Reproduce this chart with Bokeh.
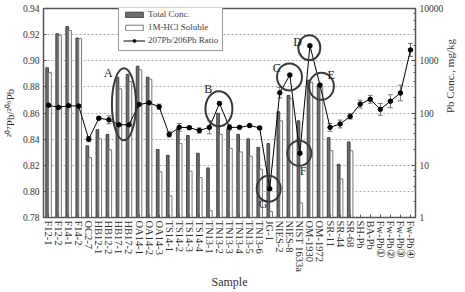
import math
import numpy as np
from bokeh.plotting import figure
from bokeh.models import (Range1d, LogScale, LogAxis, FixedTicker, PrintfTickFormatter,
                          Legend, LegendItem, Whisker, TeeHead, ColumnDataSource)
from bokeh.core.properties import value
from bokeh.embed import file_html
from bokeh.resources import INLINE

samples = ["F12-1", "F12-2", "F14-1", "F14-2", "OC2-7", "HB12-1", "HB12-2", "HB17-1", "HB17-2",
           "OA14-1", "OA14-2", "OA14-3", "TS14-1", "TS14-2", "TS14-3", "TS14-4", "TN13-1", "TN13-2",
           "TN13-3", "TN13-4", "TN13-5", "TN13-6", "JG-1", "NIES-2", "NIES-8", "NIST 1633a",
           "OM-1930", "OM-1972", "SR-11", "SR-44", "SR-68", "SH-Pb", "BA-Pb",
           "Fw-Pb\u2460", "Fw-Pb\u2461", "Fw-Pb\u2462", "Fw-Pb\u2463"]

total_conc = [735, 3300, 4520, 2730, 23.5, 48, 39, 485, 550, 787, 485, 20, 15.5, 49.6, 37, 17, 8.9,
              99, 50, 39, 32, 22, 26, 106, 217, 71, 427, 346, 33.7, 10.4, 28]
hcl_soluble = [592, 3070, 3800, 2660, 14, 32, 19.8, 290, 400, 670, 443, 7.5, 2.6, 26, 7.7, 5.8, 1.35,
               39, 21, 18, 14.9, 8.4, 1.3, 71, 188, 1.9, 385, 310, 19, 5.5, 19]

ratio = [0.8660, 0.8643, 0.8656, 0.8653, 0.8400, 0.8560, 0.8548, 0.8510, 0.8510, 0.8665, 0.8678,
         0.8648, 0.8436, 0.8490, 0.8488, 0.8466, 0.8490, 0.8673, 0.8490, 0.8490, 0.8504, 0.8486,
         0.8020, 0.8755, 0.8891, 0.8292, 0.9115, 0.8814, 0.8490, 0.8516, 0.8574, 0.8668, 0.8705,
         0.8628, 0.8690, 0.8753, 0.9083]
ratio_err = [0.001, 0.001, 0.002, 0.001, 0.002, 0.001, 0.003, 0.001, 0.001, 0.001, 0.001, 0.002,
             0.002, 0.003, 0.001, 0.002, 0.005, 0.001, 0.002, 0.001, 0.001, 0.001, 0.001, 0.004,
             0.001, 0.001, 0.001, 0.001, 0.003, 0.003, 0.002, 0.003, 0.003, 0.0045, 0.005, 0.006, 0.005]

left_ticks = [0.78, 0.80, 0.82, 0.84, 0.86, 0.88, 0.90, 0.92, 0.94]

marks = ["A", "B", "C", "D", "E", "F", "G"]

FONT = "Liberation Serif"

n = len(samples)
xc = np.arange(n) + 0.5
nb = len(total_conc)

p = figure(width=465, height=292, output_backend="svg", toolbar_location=None,
           x_range=Range1d(0, n), y_range=Range1d(0.78, 0.94),
           min_border_left=37, min_border_right=47, min_border_top=8, min_border_bottom=70)
p.extra_y_ranges = {"conc": Range1d(1, 10000)}
p.extra_y_scales = {"conc": LogScale()}

p.outline_line_color = "#555555"
p.outline_line_width = 1.5
p.xgrid.grid_line_color = None
p.ygrid.grid_line_color = "#aaaaaa"
p.ygrid.grid_line_dash = "2 2"
p.ygrid.ticker = FixedTicker(ticks=left_ticks)

tb = p.vbar(x=xc[:nb] - 0.14, top=total_conc, bottom=1, width=0.27, y_range_name="conc",
            fill_color="#6e6e6e", line_color="#2a2a2a", line_width=0.8)
hb = p.vbar(x=xc[:nb] + 0.14, top=hcl_soluble, bottom=1, width=0.27, y_range_name="conc",
            fill_color="#ffffff", line_color="#777777", line_width=1)

err_src = ColumnDataSource(dict(x=xc, upper=np.array(ratio) + np.array(ratio_err),
                                lower=np.array(ratio) - np.array(ratio_err)))
p.add_layout(Whisker(base="x", upper="upper", lower="lower", source=err_src, line_color="#777777",
                     line_width=1,
                     upper_head=TeeHead(size=5, line_color="#777777", line_width=1),
                     lower_head=TeeHead(size=5, line_color="#777777", line_width=1)))
rl = p.line(xc, ratio, line_color="black", line_width=1)
rs = p.scatter(xc, ratio, size=4.5, color="black")

idx = [samples.index(s) for s in ["TN13-2", "NIES-8", "OM-1930", "OM-1972", "NIST 1633a", "JG-1"]]
r = np.array(ratio)
circ_x = [xc[samples.index("HB17-1")] + 0.5,
          xc[idx[0]] - 0.05, xc[idx[1]] - 0.03, xc[idx[2]] - 0.06, xc[idx[3]] + 0.14,
          xc[idx[4]] - 0.06, xc[idx[5]] - 0.1]
circ_y = [0.8667, r[idx[0]] - 0.004, r[idx[1]] - 0.0015, r[idx[2]] - 0.0015, r[idx[3]] - 0.001,
          r[idx[4]], r[idx[5]]]
circ_w = [24, 27, 25, 22, 25, 24, 24]
circ_h = [72, 35, 27, 25, 27, 25, 26]
p.ellipse(x=circ_x, y=circ_y, width=circ_w, height=circ_h, width_units="screen",
          height_units="screen", fill_color=None, line_color="#3a3a3a", line_width=2)

lab_x = [6.44, 16.38, 23.2, 25.27, 28.6, 25.83, 21.84]
lab_y = [0.8909, 0.8785, 0.8947, 0.9145, 0.889, 0.8158, 0.7902]
p.text(x=lab_x, y=lab_y, text=marks, text_font=value(FONT), text_font_size="12px",
       text_align="center", text_baseline="middle", text_color="#222222")

yl = p.yaxis[0]
yl.ticker = FixedTicker(ticks=left_ticks)
yl.formatter = PrintfTickFormatter(format="%.2f")
yl.axis_label = "\u00b2\u2070\u2077Pb/\u00b2\u2070\u2076Pb"
yl.major_tick_in = 3
yl.major_tick_out = 0

ra = LogAxis(y_range_name="conc")
ra.formatter = PrintfTickFormatter(format="%d")
ra.axis_label = "Pb Conc., mg/kg"
ra.axis_label_orientation = math.pi / 2
ra.major_tick_in = 4
ra.major_tick_out = 0
ra.minor_tick_in = 2
ra.minor_tick_out = 0
p.add_layout(ra, "right")

xa = p.xaxis[0]
xa.ticker = FixedTicker(ticks=list(xc))
xa.major_label_overrides = {float(v): s for v, s in zip(xc, samples)}
xa.major_label_orientation = "vertical"
xa.major_tick_in = 3
xa.major_tick_out = 0
xa.axis_label = "Sample"

for ax in [yl, ra, xa]:
    ax.major_label_text_font = FONT
    ax.axis_label_text_font = FONT
    ax.axis_label_text_font_style = "normal"
    ax.axis_label_text_font_size = "11px"
    ax.major_label_text_font_size = "9.5px"
    ax.major_label_text_color = "#333333"
    ax.axis_label_text_color = "#333333"
    ax.axis_line_color = "#555555"
    ax.major_tick_line_color = "#555555"
    ax.minor_tick_line_color = "#555555" if ax is ra else None
    ax.major_label_standoff = 4
    ax.axis_label_standoff = 4
xa.major_label_text_font_size = "10.5px"
xa.major_label_standoff = 3
xa.axis_label_standoff = 0
xa.axis_label_text_font_size = "12px"

legend = Legend(items=[LegendItem(label="Total Conc.", renderers=[tb]),
                       LegendItem(label="1M-HCl Soluble", renderers=[hb]),
                       LegendItem(label="207Pb/206Pb Ratio", renderers=[rl, rs])],
                location=(75, 166), label_text_font=FONT, label_text_font_size="9px",
                glyph_width=22, glyph_height=7, label_height=12, spacing=1, padding=4,
                margin=0, border_line_color="#333333", border_line_width=1,
                label_standoff=3, background_fill_alpha=1)
p.add_layout(legend, "center")

open("out.html", "w").write(file_html(p, INLINE))
